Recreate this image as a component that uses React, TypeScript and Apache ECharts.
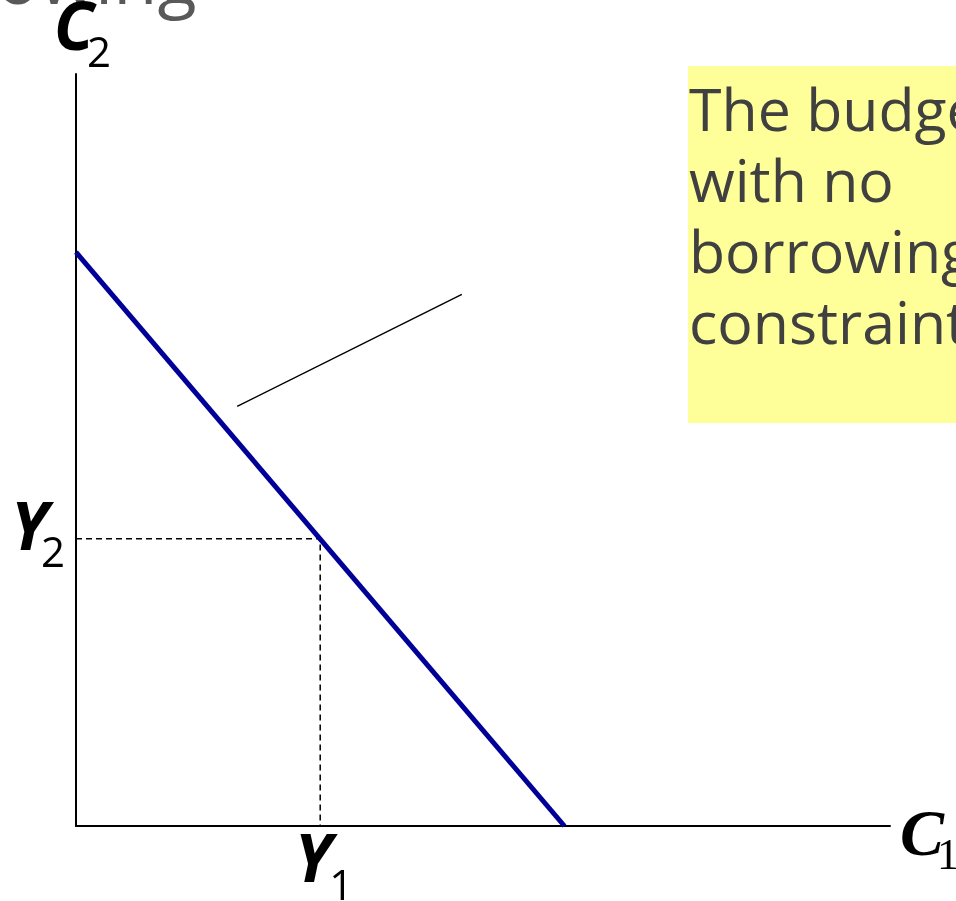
import React, { useEffect, useRef } from "react";
import * as echarts from "echarts";

// Budget line (no borrowing constraint) in C1–C2 space, axis range 0..100
const budgetLine: [number, number][] = [
  [0, 76.3],
  [60, 0],
];
// Endowment point (Y1, Y2)
const endowment = { Y1: 30, Y2: 38.2 };
const guideLine: [number, number][] = [
  [0, endowment.Y2],
  [endowment.Y1, endowment.Y2],
  [endowment.Y1, 0],
];
// Annotation pointer line
const pointerLine: [number, number][] = [
  [19.8, 55.8],
  [47.4, 70.7],
];
const noteLines = ["The budget constraint", "with no", "borrowing", "constraint"];
const titleFragment = "owing";

export default function App() {
  const ref = useRef<HTMLDivElement>(null);
  useEffect(() => {
    if (!ref.current) return;
    const chart = echarts.init(ref.current, null, { renderer: "svg" });
    const axisCommon = {
      type: "value" as const,
      min: 0,
      max: 100,
      axisLine: { show: true, onZero: true, lineStyle: { color: "#000", width: 2 } },
      axisTick: { show: false },
      axisLabel: { show: false },
      splitLine: { show: false },
    };
    chart.setOption({
      animation: false,
      grid: { left: 76, right: 66, top: 74, bottom: 75 },
      xAxis: axisCommon,
      yAxis: axisCommon,
      series: [
        {
          type: "line",
          data: guideLine,
          symbol: "none",
          lineStyle: { color: "#000", width: 1.5, type: [6, 4] },
          z: 2,
        },
        {
          type: "line",
          data: budgetLine,
          symbol: "none",
          lineStyle: { color: "#000099", width: 5 },
          z: 3,
        },
        {
          type: "line",
          data: pointerLine,
          symbol: "none",
          lineStyle: { color: "#000", width: 1.5 },
          z: 3,
        },
      ],
    });

    const p = (x: number, y: number) =>
      chart.convertToPixel({ gridIndex: 0 }, [x, y]) as number[];
    const top = p(0, 100);
    const right = p(100, 0);
    const y2 = p(0, endowment.Y2);
    const y1 = p(endowment.Y1, 0);

    const sansBI = (size: number) => ({
      fontSize: size,
      fontFamily: "Open Sans",
      fontWeight: "bold",
      fontStyle: "italic",
      fill: "#000",
    });
    const sans = (size: number) => ({
      fontSize: size,
      fontFamily: "Open Sans",
      fill: "#000",
    });
    const txt = (text: string, x: number, y: number, style: any, align = "left") => ({
      type: "text",
      z: 10,
      style: { text, x, y, align, verticalAlign: "middle", ...style },
    });

    chart.setOption({
      graphic: [
        {
          type: "rect",
          z: 1,
          shape: { x: 688, y: 66, width: 300, height: 357 },
          style: { fill: "#FFFF99" },
        },
        {
          type: "text",
          z: 5,
          style: {
            text: noteLines.join("\n"),
            x: 689,
            y: 72,
            fontSize: 59,
            lineHeight: 71,
            fontFamily: "Open Sans",
            fill: "#404040",
            align: "left",
            verticalAlign: "top",
          },
        },
        txt(titleFragment, -4, -24, { fontSize: 72, fontFamily: "Open Sans", fill: "#595959" }),
        // C2
        txt("C", top[0] - 2, top[1] - 50, sansBI(66), "center"),
        txt("2", top[0] + 11, top[1] - 24, sans(42)),
        // C1
        txt("C", right[0] + 10, right[1] + 6, {
          fontSize: 66,
          fontFamily: "Liberation Serif",
          fontWeight: "bold",
          fontStyle: "italic",
          fill: "#000",
        }),
        txt("1", right[0] + 47, right[1] + 28, { fontSize: 44, fontFamily: "Liberation Serif", fill: "#000" }),
        // Y2
        txt("Y", y2[0] - 28, y2[1] - 15, sansBI(66), "right"),
        txt("2", y2[0] - 35, y2[1] + 12, sans(42)),
        // Y1
        txt("Y", y1[0] - 7, y1[1] + 30, sansBI(66), "center"),
        txt("1", y1[0] + 9, y1[1] + 57, sans(42)),
      ],
    });
    return () => chart.dispose();
  }, []);
  return (
    <div
      ref={ref}
      style={{ position: "fixed", left: 0, top: 0, width: 956, height: 901 }}
    />
  );
}
